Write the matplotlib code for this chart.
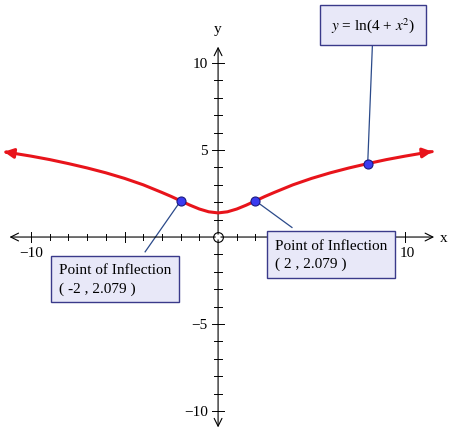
import matplotlib
matplotlib.use("Agg")
import matplotlib.pyplot as plt

plt.rcParams["font.family"] = ["Liberation Serif", "DejaVu Serif"]
plt.rcParams["mathtext.fontset"] = "stix"

# curve y = ln(4 + x^2), values read / tabulated
curve_x = [-11.2, -10, -9, -8, -7, -6, -5, -4, -3, -2.5, -2, -1.5, -1, -0.5, 0,
           0.5, 1, 1.5, 2, 2.5, 3, 4, 5, 6, 7, 8, 9, 10, 11.3]
curve_y = [4.86, 4.65, 4.45, 4.22, 3.97, 3.69, 3.37, 3.00, 2.56, 2.33, 2.079, 1.83,
           1.61, 1.45, 1.386, 1.45, 1.61, 1.83, 2.079, 2.33, 2.56, 3.00, 3.37, 3.69,
           3.97, 4.22, 4.45, 4.65, 4.89]
pts_x = [-2, 2, 8]
pts_y = [2.079, 2.079, 4.22]

fig = plt.figure(figsize=(4.5, 4.39), dpi=100)
ax = fig.add_axes([0, 0, 1, 1])
ax.set_xlim(-11.66, 12.4)
ax.set_ylim(-11.55, 13.68)
ax.axis("off")

arr = dict(arrowstyle="->", color="black", lw=0.8, mutation_scale=14)
ax.annotate("", xy=(-11.3, 0), xytext=(0, 0), arrowprops=arr)
ax.annotate("", xy=(11.7, 0), xytext=(0, 0), arrowprops=arr)
ax.annotate("", xy=(0, 11.1), xytext=(0, 0), arrowprops=arr)
ax.annotate("", xy=(0, -11.1), xytext=(0, 0), arrowprops=arr)
ax.text(11.85, 0, "x", va="center", fontsize=11)
ax.text(0, 11.6, "y", ha="center", va="bottom", fontsize=11)

for t in range(-10, 11):
    if t == 0:
        continue
    h = 0.3 if t % 5 == 0 else 0.18
    ax.plot([t, t], [-h, h], color="black", lw=0.7)
    ax.plot([-h * 1.07, h * 1.07], [t, t], color="black", lw=0.7)
for t in (5, 10, -5, -10):
    lab = str(t).replace("-", "\u2212")
    ax.text(-0.55, t, lab, ha="right", va="center", fontsize=11)
ax.text(-10, -0.5, "\u221210", ha="center", va="top", fontsize=11)
ax.text(10.1, -0.5, "10", ha="center", va="top", fontsize=11)

ax.plot(0, 0, "o", mfc="white", mec="black", ms=7, mew=0.8)

ax.plot(curve_x, curve_y, color="#e8141b", lw=2.2, zorder=3)
red = dict(arrowstyle="-|>", color="#e8141b", lw=2.2, mutation_scale=14)
ax.annotate("", xy=(-11.45, 4.9), xytext=(curve_x[0], curve_y[0]), arrowprops=red)
ax.annotate("", xy=(11.6, 4.93), xytext=(curve_x[-1], curve_y[-1]), arrowprops=red)

box = dict(boxstyle="square,pad=0.5", fc="#e8e8f8", ec="#3a3a8a", lw=1)
ax.plot([-2, -3.9], [2.079, -0.85], color="#2b4a8a", lw=0.9, zorder=2)
ax.plot([2, 3.95], [2.079, 0.55], color="#2b4a8a", lw=0.9, zorder=2)
ax.plot([8, 8.25], [4.22, 11.0], color="#2b4a8a", lw=0.9, zorder=2)
ax.text(-8.5, -2.4, "Point of Inflection\n( -2 , 2.079 )", fontsize=11,
        va="center", ha="left", bbox=box, zorder=5, linespacing=1.5)
ax.text(3.05, -1.0, "Point of Inflection\n( 2 , 2.079 )", fontsize=11,
        va="center", ha="left", bbox=box, zorder=5, linespacing=1.5)
ax.text(8.3, 12.2, r"$y$ = ln(4 + $x^2$)", fontsize=11,
        va="center", ha="center", bbox=dict(box, boxstyle="square,pad=0.7"), zorder=5)

ax.plot(pts_x, pts_y, "o", color="#3b3bf0", mec="#1a1a80", ms=6.5, mew=0.8, zorder=6)

fig.savefig("out.png", dpi=100)
